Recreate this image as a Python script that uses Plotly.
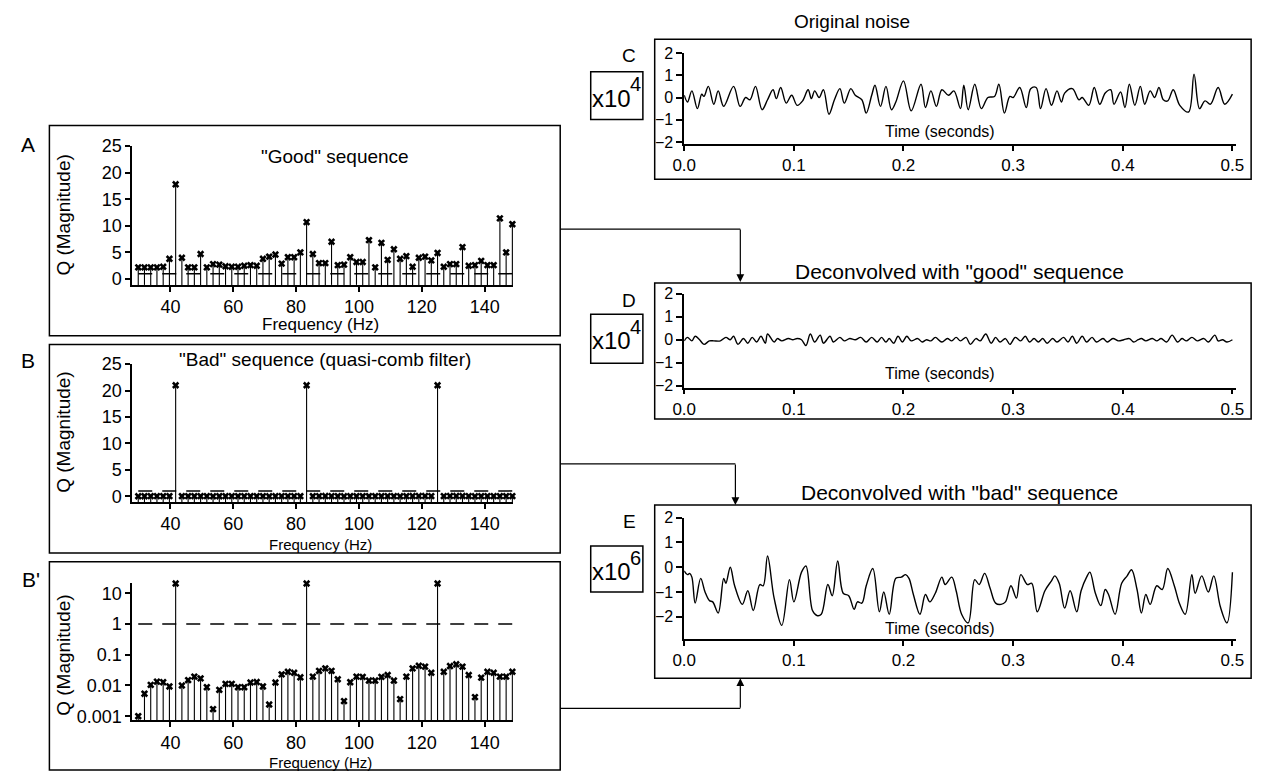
import plotly.graph_objects as go

W, H = 1267, 781
FONT = "Liberation Sans, Arial, sans-serif"

# ---------------- data ----------------
bin_index = list(range(15, 76))
freq_hz = [k / 0.504 for k in bin_index]

good_q = [2.2, 2.2, 2.2, 2.2, 2.3, 3.8, 17.8, 4.0, 2.2, 2.2,
          4.7, 2.2, 2.8, 2.7, 2.4, 2.3, 2.3, 2.5, 2.6, 2.5,
          3.8, 4.2, 4.6, 2.9, 4.1, 4.1, 5.0, 10.7, 4.7, 3.0,
          3.0, 7.0, 2.6, 2.7, 4.1, 3.2, 3.2, 7.3, 2.2, 6.8,
          3.6, 5.6, 3.8, 4.3, 2.3, 4.0, 4.2, 3.5, 4.9, 2.3,
          2.8, 2.8, 6.0, 2.5, 2.6, 3.4, 2.6, 2.6, 11.4, 5.0, 10.3]

bad_q = [0.001, 0.0054, 0.0105, 0.0134, 0.0128, 0.0093, 21.0, 0.010, 0.015, 0.0195,
         0.017, 0.0088, 0.0017, 0.0072, 0.0113, 0.0113, 0.0088, 0.0088, 0.0125, 0.013,
         0.0093, 0.0024, 0.0125, 0.023, 0.028, 0.026, 0.0185, 21.0, 0.0195, 0.030,
         0.036, 0.030, 0.016, 0.0031, 0.0128, 0.0195, 0.019, 0.0145, 0.0145, 0.019,
         0.022, 0.0145, 0.0036, 0.0195, 0.036, 0.044, 0.041, 0.026, 21.0, 0.028,
         0.043, 0.049, 0.041, 0.022, 0.0042, 0.018, 0.028, 0.026, 0.0195, 0.0195, 0.028]

unity_level = 1.0

freq_ticks = [40, 60, 80, 100, 120, 140]
lin_q_ticks = [0, 5, 10, 15, 20, 25]
log_q_ticks = [0.001, 0.01, 0.1, 1, 10]
log_q_ticktext = ["0.001", "0.01", "0.1", "1", "10"]
time_ticks = [0.0, 0.1, 0.2, 0.3, 0.4, 0.5]
time_ticktext = ["0.0", "0.1", "0.2", "0.3", "0.4", "0.5"]

orig_t = [0.000, 0.003, 0.007, 0.012, 0.016, 0.018, 0.022, 0.027, 0.031, 0.036,
          0.045, 0.051, 0.056, 0.060, 0.065, 0.071, 0.076, 0.081, 0.084, 0.088,
          0.093, 0.098, 0.103, 0.108, 0.113, 0.116, 0.119, 0.123, 0.127, 0.132,
          0.137, 0.142, 0.146, 0.152, 0.156, 0.162, 0.166, 0.171, 0.174, 0.179,
          0.184, 0.189, 0.193, 0.200, 0.207, 0.216, 0.220, 0.225, 0.230, 0.235,
          0.241, 0.246, 0.252, 0.255, 0.259, 0.265, 0.271, 0.277, 0.283, 0.287,
          0.292, 0.297, 0.300, 0.306, 0.312, 0.316, 0.321, 0.325, 0.330, 0.335,
          0.340, 0.344, 0.347, 0.354, 0.360, 0.363, 0.369, 0.374, 0.379, 0.384,
          0.389, 0.392, 0.398, 0.402, 0.406, 0.411, 0.416, 0.420, 0.425, 0.429,
          0.433, 0.437, 0.441, 0.446, 0.452, 0.460, 0.465, 0.470, 0.475, 0.480,
          0.487, 0.493, 0.500]
orig_v = [0.10, -0.20, 0.30, -0.50, 0.15, 0.05, 0.50, -0.30, 0.30, -0.40,
          0.50, -0.40, 0.00, -0.10, 0.50, -0.55, -0.10, 0.35, -0.05, 0.45,
          -0.25, 0.10, -0.35, -0.15, 0.35, -0.05, 0.30, 0.00, 0.35, -0.75,
          -0.10, 0.40, -0.25, 0.40, 0.10, -0.10, -0.70, 0.10, 0.55, -0.40,
          0.50, -0.55, -0.20, 0.75, -0.60, 0.60, -0.45, 0.30, -0.40, 0.35,
          0.10, 0.30, -0.50, 0.55, -0.55, 0.60, -0.50, 0.00, 0.05, 0.60,
          -0.70, 0.05, 0.00, 0.45, -0.45, 0.40, 0.45, -0.50, 0.40, -0.35,
          0.30, -0.20, 0.20, 0.40, -0.10, 0.00, -0.35, 0.45, -0.30, 0.20,
          0.35, -0.30, 0.25, -0.45, 0.60, -0.35, 0.50, -0.30, 0.30, 0.00,
          0.45, -0.10, -0.15, 0.35, -0.35, -0.65, 1.05, -0.50, -0.15, -0.30,
          0.45, -0.30, 0.15]

good_t = [0.000, 0.003, 0.007, 0.010, 0.014, 0.018, 0.023, 0.027, 0.033, 0.038,
          0.042, 0.045, 0.049, 0.054, 0.058, 0.062, 0.066, 0.070, 0.074, 0.076,
          0.082, 0.085, 0.089, 0.095, 0.099, 0.103, 0.107, 0.111, 0.115, 0.119,
          0.124, 0.127, 0.133, 0.136, 0.142, 0.146, 0.151, 0.156, 0.161, 0.166,
          0.171, 0.176, 0.180, 0.184, 0.187, 0.191, 0.195, 0.199, 0.203, 0.207,
          0.213, 0.217, 0.221, 0.225, 0.229, 0.235, 0.240, 0.244, 0.248, 0.252,
          0.257, 0.261, 0.266, 0.270, 0.275, 0.280, 0.284, 0.288, 0.293, 0.297,
          0.302, 0.307, 0.311, 0.315, 0.319, 0.323, 0.327, 0.331, 0.336, 0.340,
          0.346, 0.350, 0.354, 0.358, 0.363, 0.367, 0.372, 0.376, 0.382, 0.386,
          0.391, 0.396, 0.401, 0.406, 0.410, 0.414, 0.417, 0.421, 0.427, 0.431,
          0.435, 0.440, 0.445, 0.450, 0.454, 0.458, 0.463, 0.468, 0.474, 0.478,
          0.484, 0.487, 0.491, 0.495, 0.500]
good_v = [-0.05, 0.10, -0.05, 0.15, 0.00, -0.20, -0.05, -0.05, -0.05, 0.10,
          0.00, 0.15, -0.20, 0.05, -0.15, 0.10, -0.10, 0.15, -0.15, 0.25,
          -0.10, 0.05, -0.05, 0.05, 0.00, 0.05, 0.00, -0.25, 0.25, -0.10,
          0.20, -0.15, 0.15, -0.10, 0.10, -0.05, 0.05, 0.00, 0.10, -0.10,
          0.10, -0.10, 0.10, -0.10, 0.05, -0.15, 0.15, -0.10, 0.15, -0.05,
          0.05, -0.10, 0.00, -0.05, 0.10, -0.10, 0.05, -0.05, 0.10, -0.05,
          0.10, -0.20, 0.05, -0.05, 0.25, -0.15, 0.10, -0.10, 0.05, -0.20,
          0.10, -0.05, 0.15, -0.10, 0.05, -0.10, 0.05, -0.15, 0.05, -0.10,
          0.10, -0.10, 0.15, -0.15, 0.15, -0.10, 0.10, -0.10, 0.05, -0.10,
          0.05, -0.05, 0.00, 0.05, -0.10, 0.00, 0.05, -0.05, 0.05, -0.05,
          0.05, -0.10, 0.20, -0.10, 0.05, -0.05, 0.10, -0.05, 0.05, -0.10,
          0.20, -0.05, 0.00, -0.10, 0.00]

bad_t = [0.000, 0.003, 0.005, 0.007, 0.010, 0.015, 0.019, 0.023, 0.026, 0.031,
         0.036, 0.038, 0.042, 0.046, 0.053, 0.058, 0.063, 0.069, 0.072, 0.076,
         0.082, 0.089, 0.096, 0.100, 0.107, 0.111, 0.117, 0.121, 0.125, 0.131,
         0.135, 0.140, 0.145, 0.150, 0.155, 0.158, 0.162, 0.166, 0.172, 0.178,
         0.182, 0.187, 0.193, 0.198, 0.202, 0.205, 0.209, 0.215, 0.220, 0.224,
         0.229, 0.235, 0.238, 0.244, 0.248, 0.253, 0.259, 0.265, 0.269, 0.274,
         0.279, 0.284, 0.289, 0.293, 0.298, 0.303, 0.307, 0.313, 0.317, 0.322,
         0.329, 0.335, 0.338, 0.342, 0.347, 0.352, 0.358, 0.362, 0.367, 0.370,
         0.375, 0.380, 0.384, 0.387, 0.393, 0.399, 0.404, 0.408, 0.413, 0.417,
         0.421, 0.425, 0.431, 0.436, 0.441, 0.447, 0.452, 0.457, 0.463, 0.466,
         0.472, 0.478, 0.483, 0.489, 0.495, 0.500]
bad_v = [-0.15, -0.30, -0.25, -0.40, -1.45, -0.45, -1.00, -1.35, -1.40, -1.85,
         -0.45, -0.65, 0.00, -0.75, -1.50, -0.95, -1.75, -0.70, -0.75, 0.45,
         -1.25, -2.35, -0.50, -1.40, -0.20, 0.05, -1.75, -1.95, -1.90, -0.70,
         -1.15, 0.25, -1.05, -1.15, -1.70, -1.40, -1.45, -0.75, -0.05, -1.80,
         -1.00, -1.90, -0.45, -0.40, -0.30, -0.45, -1.10, -1.90, -1.10, -1.40,
         -1.05, -0.40, -0.70, -0.40, -0.95, -1.90, -2.25, -0.50, -0.70, -0.25,
         -0.85, -1.45, -1.50, -1.40, -0.75, -1.25, -0.30, -0.70, -0.65, -1.80,
         -0.95, -0.55, -0.35, -0.65, -1.65, -0.95, -1.80, -0.95, -0.40, -0.20,
         -1.05, -1.55, -0.90, -1.10, -1.90, -0.65, -0.35, -0.10, -0.90, -1.85,
         -1.10, -1.50, -0.75, -0.90, -0.05, -0.75, -1.50, -1.90, -0.30, -1.05,
         -0.35, -1.00, -0.35, -1.60, -2.25, -0.20]

tick_small = [-2, -1, 0, 1, 2]

def px(x):
    return x / W

def py(y):
    return 1 - y / H

def stems(xs, ys, base):
    sx, sy = [], []
    for a, b in zip(xs, ys):
        sx += [a, a, None]
        sy += [base, b, None]
    return sx, sy

fig = go.Figure()

A_YR = [-1.1, 25]
B_YR = [-1.1, 25]
BP_YR = [-3.13, 1.33]
F_XR = [27.8, 149.0]

panels = [
    ("x", "y", good_q, A_YR[0]),
    ("x2", "y2", bad_q, B_YR[0]),
    ("x3", "y3", bad_q, 10 ** BP_YR[0]),
]
for xa, ya, vals, base in panels:
    sx, sy = stems(freq_hz, vals, base)
    fig.add_trace(go.Scatter(x=sx, y=sy, mode="lines", line=dict(color="black", width=1.1),
                             xaxis=xa, yaxis=ya, hoverinfo="skip", showlegend=False))
    fig.add_trace(go.Scatter(x=[freq_hz[0], freq_hz[-1]], y=[unity_level, unity_level], mode="lines",
                             line=dict(color="black", width=1.5, dash="14px,10px"),
                             xaxis=xa, yaxis=ya, hoverinfo="skip", showlegend=False))
    fig.add_trace(go.Scatter(x=freq_hz, y=vals, mode="markers", cliponaxis=False,
                             marker=dict(symbol="x", size=6.5, color="black"),
                             xaxis=xa, yaxis=ya, showlegend=False))

for xa, ya, t, v in [("x4", "y4", orig_t, orig_v), ("x5", "y5", good_t, good_v), ("x6", "y6", bad_t, bad_v)]:
    fig.add_trace(go.Scatter(x=t, y=v, mode="lines", line=dict(color="black", width=1.4, shape="spline", smoothing=1.0),
                             xaxis=xa, yaxis=ya, showlegend=False))

axis_common = dict(showline=True, linecolor="black", linewidth=1.5, ticks="outside", ticklen=5,
                   tickwidth=1.5, tickcolor="black", showgrid=False, zeroline=False,
                   tickfont=dict(family=FONT, size=18, color="black"), mirror=False)

def dom_x(a, b):
    return [px(a), px(b)]

def dom_y(top, bottom):
    return [py(bottom), py(top)]

layout = dict(
    width=W, height=H, margin=dict(l=0, r=0, t=0, b=0),
    paper_bgcolor="white", plot_bgcolor="white", showlegend=False,
    font=dict(family=FONT, color="black"),
)
layout["xaxis"] = dict(axis_common, domain=dom_x(122, 509), range=F_XR, tickvals=freq_ticks, anchor="y")
layout["yaxis"] = dict(axis_common, domain=dom_y(139, 281), range=A_YR, tickvals=lin_q_ticks, anchor="x")
layout["xaxis2"] = dict(axis_common, domain=dom_x(122, 509), range=F_XR, tickvals=freq_ticks, anchor="y2")
layout["yaxis2"] = dict(axis_common, domain=dom_y(362, 503), range=B_YR, tickvals=lin_q_ticks, anchor="x2")
layout["xaxis3"] = dict(axis_common, domain=dom_x(122, 509), range=F_XR, tickvals=freq_ticks, anchor="y3")
layout["yaxis3"] = dict(axis_common, domain=dom_y(586, 726), range=BP_YR, type="log",
                        tickvals=log_q_ticks, ticktext=log_q_ticktext, anchor="x3")
T_XR = [0, 0.5036]
small_tick = dict(axis_common, tickfont=dict(family=FONT, size=16, color="black"), ticklen=6)
time_x = dict(axis_common, tickfont=dict(family=FONT, size=17, color="black"))
layout["xaxis4"] = dict(time_x, domain=dom_x(683, 1244), range=T_XR, tickvals=time_ticks, ticktext=time_ticktext, anchor="y4")
layout["yaxis4"] = dict(small_tick, domain=dom_y(44, 137), range=[-2.09, 2], tickvals=tick_small, anchor="x4")
layout["xaxis5"] = dict(time_x, domain=dom_x(683, 1244), range=T_XR, tickvals=time_ticks, ticktext=time_ticktext, anchor="y5")
layout["yaxis5"] = dict(small_tick, domain=dom_y(290, 386), range=[-2.08, 2], tickvals=tick_small, anchor="x5")
layout["xaxis6"] = dict(time_x, domain=dom_x(683, 1244), range=T_XR, tickvals=time_ticks, ticktext=time_ticktext, anchor="y6")
layout["yaxis6"] = dict(small_tick, domain=dom_y(519, 643), range=[-2.9, 2], tickvals=tick_small, anchor="x6")
fig.update_layout(**layout)

shapes = []
def rect(x0, y0, x1, y1, w=1.5):
    shapes.append(dict(type="rect", xref="paper", yref="paper", x0=px(x0), x1=px(x1), y0=py(y1), y1=py(y0),
                       line=dict(color="black", width=w), fillcolor="rgba(0,0,0,0)", layer="above"))
def hline(x0, x1, y):
    shapes.append(dict(type="line", xref="paper", yref="paper", x0=px(x0), x1=px(x1), y0=py(y), y1=py(y),
                       line=dict(color="black", width=1.2)))

rect(38, 118, 557, 333)
rect(38, 342, 557, 555)
rect(38, 564, 557, 777)
rect(653, 30, 1259, 173)
rect(653, 279, 1259, 418)
rect(653, 506, 1259, 683)
rect(588, 63, 641, 112)
rect(588, 311, 641, 361)
rect(588, 548, 641, 595)
hline(557, 740, 224)
hline(557, 735, 464)
hline(557, 740, 714)
fig.update_layout(shapes=shapes)

ann = []
def text(x, y, s, size, angle=0, xanchor="center"):
    ann.append(dict(x=px(x), y=py(y), xref="paper", yref="paper", text=s, showarrow=False,
                    font=dict(family=FONT, size=size, color="black"), textangle=angle,
                    xanchor=xanchor, yanchor="middle"))
def arrow(x, ytip, ytail):
    ann.append(dict(x=px(x), y=py(ytip), xref="paper", yref="paper", ax=0, ay=ytail - ytip,
                    axref="pixel", ayref="pixel", text="", showarrow=True, arrowhead=2,
                    arrowsize=1.3, arrowwidth=1.2, arrowcolor="black"))

text(16, 138, "A", 21)
text(16, 358, "B", 21)
text(19, 582, "B'", 21)
text(627, 47, "C", 19)
text(627, 297, "D", 19)
text(627, 523, "E", 19)

text(328, 150, '"Good" sequence', 19)
text(318, 357, '"Bad" sequence (quasi-comb filter)', 19)
text(853, 12, "Original noise", 19)
text(963, 267, 'Deconvolved with "good" sequence', 21)
text(963, 493, 'Deconvolved with "bad" sequence', 21)

for yc in (210, 432, 660):
    text(52, yc, "Q (Magnitude)", 19, angle=-90)
text(313, 322, "Frequency (Hz)", 17)
text(313, 546, "Frequency (Hz)", 15)
text(313, 769, "Frequency (Hz)", 15)
text(943, 124, "Time (seconds)", 16)
text(943, 372, "Time (seconds)", 16)
text(943, 632, "Time (seconds)", 16)

for yc, exp in ((90, "4"), (338, "4"), (574, "6")):
    text(609, yc, "x10", 24)
    text(634, yc - 14, exp, 20)

arrow(740, 278, 224)
arrow(735, 506, 464)
arrow(740, 683, 714)
fig.update_layout(annotations=ann)

fig.write_html("out.html", config={"displayModeBar": False},
               post_script="document.body.style.margin='0px';document.body.style.overflow='hidden';")
